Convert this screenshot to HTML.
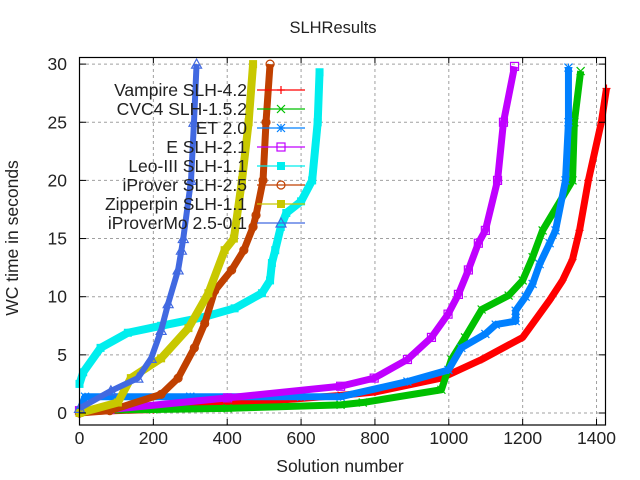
<!DOCTYPE html>
<html><head><meta charset="utf-8"><style>
body{margin:0;background:#fff;}
svg{display:block;font-family:"Liberation Sans",sans-serif;}
</style></head><body>
<svg id="chart" width="640" height="480" xmlns="http://www.w3.org/2000/svg">
<rect width="640" height="480" fill="#fff"/>
<text x="333" y="33" font-size="16.5" text-anchor="middle" fill="#222">SLHResults</text>
<text x="340" y="472" font-size="17.5" text-anchor="middle" fill="#222">Solution number</text>
<text transform="translate(18,238) rotate(-90)" font-size="17.5" text-anchor="middle" fill="#222">WC time in seconds</text>
<g id="grid"></g><g id="series"></g><g id="legend"></g>
<rect x="79.5" y="57.5" width="526" height="367.5" fill="none" stroke="#000" stroke-width="1.2"/>
<g id="ticks"></g>
</svg>
<script>
const xTicks=[0,200,400,600,800,1000,1200,1400];
const yTicks=[0,5,10,15,20,25,30];
const seriesNames=["Vampire SLH-4.2","CVC4 SLH-1.5.2","ET 2.0","E SLH-2.1","Leo-III SLH-1.1","iProver SLH-2.5","Zipperpin SLH-1.1","iProverMo 2.5-0.1"];
const vampireX=[0,200,500,700,800,980,1089,1200,1273,1308,1335,1354,1378,1413,1427];
const vampireY=[0.1,0.3,1.0,1.5,1.8,3.0,4.6,6.5,9.7,11.4,13.2,15.7,20,25,27.9];
const cvc4X=[0,200,401,707,767,980,1007,1044,1089,1162,1200,1227,1254,1335,1340,1357];
const cvc4Y=[0.2,0.3,0.4,0.7,0.9,2.0,4.6,6.5,8.9,10.1,11.4,13.4,15.7,20,25,29.4];
const etX=[0,15,300,600,707,888,999,1034,1099,1127,1181,1181,1208,1227,1246,1273,1289,1316,1324,1324];
const etY=[0.2,1.4,1.4,1.4,1.4,2.7,3.7,5.6,6.8,7.6,7.9,8.8,10,11.1,12.8,14.6,15.7,20,25,29.7];
const eX=[0,82,401,707,798,888,953,998,1026,1053,1080,1099,1132,1148,1178];
const eY=[0.2,0.3,1.3,2.3,3.0,4.6,6.5,8.5,10.2,12.3,14.6,15.7,20,25,29.8];
const leoX=[0,10,57,131,221,330,420,494,516,521,530,545,560,600,630,645,650];
const leoY=[2.5,3.5,5.6,6.9,7.5,8.2,9.0,10.3,11.4,12.9,14,16,17.2,18.2,20,25,29.3];
const iproverX=[0,82,221,267,311,339,366,412,445,470,478,497,505,516];
const iproverY=[0,0.2,1.6,3.0,5.6,7.7,10.5,12.3,14,16,17,20,25,30];
const zipperX=[0,104,139,221,295,349,393,418,440,458,470];
const zipperY=[0,0.9,3.0,4.7,7.3,10.3,14,15,20,25,30];
const moX=[0,85,158,194,221,240,267,276,281,302,310,317];
const moY=[0.4,1.9,3.0,4.7,7.1,9.4,12.3,14,15,20,25,30];
const colors=["#ff0000","#00c000","#0080ff","#c000ff","#00eeee","#c04000","#c8c800","#4169e1"];
const markers=["plus","x","star","sq","fsq","circ","fsq2","tri"];
const allX=[vampireX,cvc4X,etX,eX,leoX,iproverX,zipperX,moX];
const allY=[vampireY,cvc4Y,etY,eY,leoY,iproverY,zipperY,moY];
const NS="http://www.w3.org/2000/svg";
function sx(v){return 79.5+v*0.3693;}
function sy(v){return 413-v*11.63;}
function mk(tag,attrs,parent){const e=document.createElementNS(NS,tag);for(const k in attrs)e.setAttribute(k,attrs[k]);parent.appendChild(e);return e;}
const grid=document.getElementById('grid'),ticks=document.getElementById('ticks');
xTicks.forEach(t=>{
 const x=sx(t);
 if(t>0){const g=mk('line',{x1:x,x2:x,y1:57,y2:425,stroke:'#a0a0a0','stroke-dasharray':'3,3'},grid);
 
 }
 const a=mk('line',{x1:x,x2:x,y1:425,y2:419,stroke:'#000'},ticks);
 
 
 const b=mk('line',{x1:x,x2:x,y1:57,y2:63,stroke:'#000'},ticks);
 
 
 const l=mk('text',{x:x,y:444,'font-size':17.5,'text-anchor':'middle',fill:'#222'},ticks);l.textContent=t;
 
 
});
yTicks.forEach(t=>{
 const y=sy(t);
 const g=mk('line',{x1:80,x2:605,y1:y,y2:y,stroke:'#a0a0a0','stroke-dasharray':'3,3'},grid);
 
 
 const a=mk('line',{x1:80,x2:86,y1:y,y2:y,stroke:'#000'},ticks);
 
 
 const b=mk('line',{x1:599,x2:605,y1:y,y2:y,stroke:'#000'},ticks);
 
 
 const l=mk('text',{x:67,y:y+6,'font-size':17.5,'text-anchor':'end',fill:'#222'},ticks);l.textContent=t;
 
 
});
function marker(type,x,y,c,p){
 let e;const s=4;
 if(type==='plus')e=mk('path',{d:`M${x-s} ${y}H${x+s}M${x} ${y-s}V${y+s}`,stroke:c,'stroke-width':1.2,fill:'none'},p);
 else if(type==='x')e=mk('path',{d:`M${x-s} ${y-s}L${x+s} ${y+s}M${x-s} ${y+s}L${x+s} ${y-s}`,stroke:c,'stroke-width':1.2,fill:'none'},p);
 else if(type==='star')e=mk('path',{d:`M${x-s} ${y}H${x+s}M${x} ${y-s}V${y+s}M${x-s} ${y-s}L${x+s} ${y+s}M${x-s} ${y+s}L${x+s} ${y-s}`,stroke:c,'stroke-width':1.2,fill:'none'},p);
 else if(type==='sq')e=mk('rect',{x:x-s,y:y-s,width:2*s,height:2*s,stroke:c,'stroke-width':1.2,fill:'none'},p);
 else if(type==='fsq'||type==='fsq2')e=mk('rect',{x:x-s,y:y-s,width:2*s,height:2*s,fill:c},p);
 else if(type==='circ')e=mk('circle',{cx:x,cy:y,r:s,stroke:c,'stroke-width':1.2,fill:'none'},p);
 else e=mk('path',{d:`M${x} ${y-s-1}L${x+s+1} ${y+s}L${x-s-1} ${y+s}Z`,stroke:c,'stroke-width':1.2,fill:'none'},p);
 return e;
}
const sg=document.getElementById('series');
allX.forEach((xs,i)=>{
 const g=mk('g',{},sg);
 
 
 const pts=xs.map((v,j)=>sx(v)+','+sy(allY[i][j])).join(' ');
 const w=(i===6||i===4)?8:(i===7?6:7);
 const pl=mk('polyline',{points:pts,fill:'none',stroke:colors[i],'stroke-width':w,'stroke-linejoin':'round'},g);
 
 
 xs.forEach((v,j)=>{const m=marker(markers[i],sx(v),sy(allY[i][j]),colors[i],g);
 
 });
});
const lg=document.getElementById('legend');
seriesNames.forEach((n,i)=>{
 const y=90+i*19;
 const g=mk('g',{},lg);
 
 
 const t=mk('text',{x:247,y:y+6,'font-size':17.5,'text-anchor':'end',fill:'#222'},g);t.textContent=n;
 
 
 const l=mk('line',{x1:257,x2:305,y1:y,y2:y,stroke:colors[i],'stroke-width':1.2},g);
 
 
 const m=marker(markers[i],281,y,colors[i],g);
 
 
});
</script>
</body></html>
